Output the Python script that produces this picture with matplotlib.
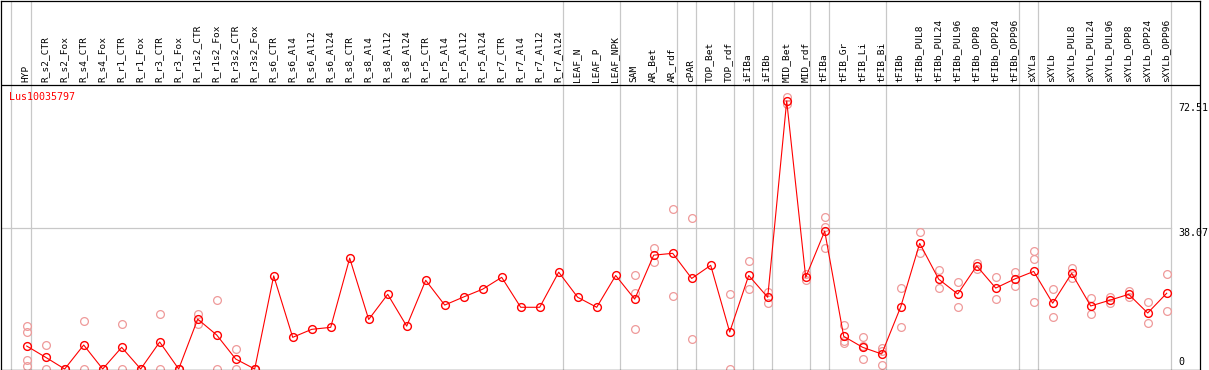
import matplotlib
matplotlib.use('Agg')
import matplotlib.pyplot as plt
from matplotlib.transforms import offset_copy

gene = "Lus10035797"
samples = ["HYP", "R_s2_CTR", "R_s2_Fox", "R_s4_CTR", "R_s4_Fox", "R_r1_CTR", "R_r1_Fox",
           "R_r3_CTR", "R_r3_Fox", "R_r1s2_CTR", "R_r1s2_Fox", "R_r3s2_CTR", "R_r3s2_Fox",
           "R_s6_CTR", "R_s6_Al4", "R_s6_Al12", "R_s6_Al24", "R_s8_CTR", "R_s8_Al4",
           "R_s8_Al12", "R_s8_Al24", "R_r5_CTR", "R_r5_Al4", "R_r5_Al12", "R_r5_Al24",
           "R_r7_CTR", "R_r7_Al4", "R_r7_Al12", "R_r7_Al24", "LEAF_N", "LEAF_P", "LEAF_NPK",
           "SAM", "AR_Bet", "AR_rdf", "cPAR", "TOP_Bet", "TOP_rdf", "iFIBa", "iFIBb",
           "MID_Bet", "MID_rdf", "tFIBa", "tFIB_Gr", "tFIB_Li", "tFIB_Bi", "tFIBb",
           "tFIBb_PUL8", "tFIBb_PUL24", "tFIBb_PUL96", "tFIBb_OPP8", "tFIBb_OPP24",
           "tFIBb_OPP96", "sXYLa", "sXYLb", "sXYLb_PUL8", "sXYLb_PUL24", "sXYLb_PUL96",
           "sXYLb_OPP8", "sXYLb_OPP24", "sXYLb_OPP96"]

means = [6.22, 3.16, 0.0, 6.49, 0.0, 5.86, 0.0, 7.3, 0.0, 13.5, 9.2, 2.7, 0.0,
         25.2, 8.57, 10.73, 11.27, 30.0, 13.4, 20.2, 11.6, 24.0, 17.3, 19.5, 21.6,
         24.8, 16.7, 16.7, 26.2, 19.4, 16.7, 25.3,
         18.9, 30.8, 31.3, 24.5, 28.05, 10.0, 25.3, 19.4,
         72.51, 24.8, 37.3, 8.84, 5.86, 4.06, 16.8,
         34.0, 24.3, 20.3, 27.9, 21.9, 24.35,
         26.4, 17.8, 25.9, 17.05, 18.6, 20.2, 15.15, 20.5]

replicates = [[11.7, 9.9, 2.35, 0.81], [6.5, 0.0], [0.0, 0.0], [12.9, 0.0], [0.0, 0.0],
              [12.2, 0.0], [0.0, 0.0], [14.9, 0.0], [0.0, 0.0], [15.0, 12.1], [18.6, 0.0],
              [5.3, 0.0], [0.0, 0.0],
              [], [], [], [], [], [], [], [], [], [], [], [],
              [], [], [], [], [], [], [],
              [25.3, 10.7, 20.5], [32.7, 28.9], [43.2, 19.75], [40.8, 8.0], [],
              [20.2, 0.0], [29.1, 21.6], [20.9, 17.9],
              [73.5, 71.7], [25.7, 24.1], [41.0, 38.3, 32.8], [11.9, 7.6, 6.9],
              [8.6, 2.8, 6.2], [5.7, 4.96, 1.0], [21.8, 11.3],
              [37.1, 31.3], [26.8, 21.8], [23.5, 16.8], [28.8, 27.0], [24.8, 18.9],
              [26.2, 22.4],
              [31.9, 29.8, 18.0], [21.6, 14.0], [27.3, 24.7], [19.2, 14.8], [19.5, 17.8],
              [21.1, 19.5], [18.0, 12.4], [25.6, 15.6]]

y_ticks = [72.51, 38.07, 0]
group_ends = [0, 28, 31, 34, 35, 37, 38, 39, 41, 42, 45, 52, 53, 60]

W, H = 1209, 370
fig = plt.figure(figsize=(W / 100, H / 100), dpi=100)
ax = fig.add_axes([1 / W, 0.5 / H, 1198.5 / W, 369 / H])

px_x = 19.0
px_y = 3.696
ax.set_xlim((1 - 26.7) / px_x, (1199.5 - 26.7) / px_x)
ax.set_ylim(-0.5 / px_y, 368.5 / px_y)
header_v = (369 - 85) / px_y

for s in ax.spines.values():
    s.set_linewidth(0.9)
    s.set_color('black')
ax.set_xticks([])
ax.set_yticks([])

grid_c = '#c8c8c8'
# separators
ax.axvline(-0.85, color=grid_c, lw=0.9, zorder=1)
for e in group_ends:
    ax.axvline(e + 0.2, color=grid_c, lw=0.9, zorder=1)
ax.plot([(1 - 26.7) / px_x, group_ends[-1] + 0.2], [y_ticks[1], y_ticks[1]],
        color=grid_c, lw=0.9, zorder=1)
ax.axhline(header_v, color='black', lw=0.9, zorder=3)

xs = list(range(len(samples)))
rx, ry = [], []
for i, r in enumerate(replicates):
    for v in r:
        rx.append(i)
        ry.append(v)
ax.plot(rx, ry, ls='none', marker='o', ms=5.6, mfc='none', mec='#ef9a9a', mew=0.9, zorder=2)
ax.plot(xs, means, color='red', lw=0.8, marker='o', ms=5.6, mfc='none', mec='red',
        mew=1.0, zorder=4)

mono = 'DejaVu Sans Mono'
for i, name in enumerate(samples):
    ax.text(i - 0.05, header_v + 0.8, name, rotation=90, ha='center', va='bottom',
            fontsize=6.8, family=mono, color='black')

ax.text((9.3 - 26.7) / px_x, header_v - 1.8, gene, color='red', fontsize=7.2,
        family=mono, ha='left', va='top')

lx = (1178 - 26.7) / px_x
ax.text(lx, y_ticks[0], f"{y_ticks[0]:.2f}", fontsize=7.2, family=mono, ha='left', va='top',
        transform=offset_copy(ax.transData, fig=fig, y=-1.5, units='points'))
ax.text(lx, y_ticks[1], f"{y_ticks[1]:.2f}", fontsize=7.2, family=mono, ha='left', va='top',
        transform=offset_copy(ax.transData, fig=fig, y=0.5, units='points'))
ax.text(lx, y_ticks[2], "0", fontsize=7.2, family=mono, ha='left', va='bottom',
        transform=offset_copy(ax.transData, fig=fig, y=1.5, units='points'))

fig.savefig('out.png', dpi=100)
